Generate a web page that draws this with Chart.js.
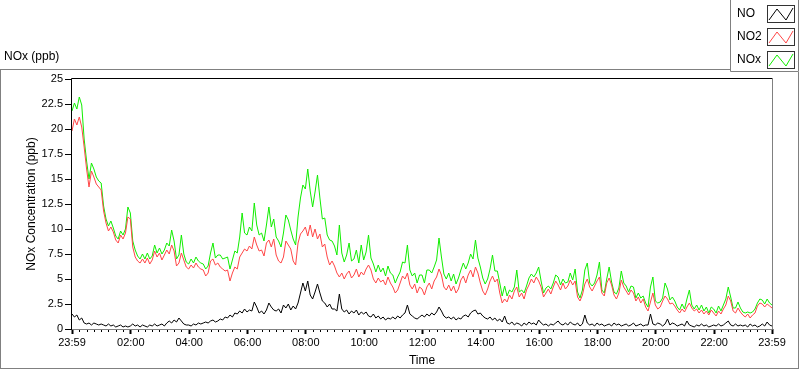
<!DOCTYPE html>
<html>
<head>
<meta charset="utf-8">
<title>NOx (ppb)</title>
<script src="https://cdn.jsdelivr.net/npm/chart.js@4.4.1/dist/chart.umd.min.js"></script>
<style>
  html, body { margin: 0; padding: 0; background: #fff; }
  #noxChart { display: block; }
</style>
</head>
<body>
<canvas id="noxChart" width="800" height="369"></canvas>
<script>

// one reading every 5 minutes, starting 23:59
const stepMinutes = 5;

const seriesNames = ['NO', 'NO2', 'NOx'];
const seriesColors = ['#000000', '#ff4646', '#11ee00'];

const no = [
    1.5, 1.2, 1.4, 0.9, 1.1, 0.6, 0.5, 0.6, 0.4, 0.6, 0.5, 0.4,
    0.5, 0.4, 0.3, 0.5, 0.3, 0.4, 0.2, 0.3, 0.4, 0.2, 0.3, 0.2,
    0.3, 0.5, 0.3, 0.4, 0.2, 0.4, 0.3, 0.2, 0.4, 0.3, 0.5, 0.3,
    0.4, 0.5, 0.3, 0.6, 0.8, 0.6, 0.9, 0.7, 1.1, 0.8, 0.5, 0.4,
    0.4, 0.3, 0.5, 0.4, 0.6, 0.5, 0.6, 0.7, 0.6, 0.8, 0.9, 0.7,
    0.8, 1.0, 0.9, 1.2, 1.1, 1.4, 1.2, 1.6, 1.5, 1.8, 1.6, 2.0,
    1.7, 1.9, 1.8, 2.7, 2.2, 1.6, 1.8, 1.5, 1.9, 2.6, 2.2, 1.9,
    1.8, 2.0, 1.6, 2.4, 2.1, 2.5, 1.9, 2.3, 2.0, 2.6, 3.6, 4.6,
    3.8, 4.8, 3.4, 3.0, 3.7, 4.5, 3.6, 2.8, 2.6, 2.2, 2.5, 2.0,
    2.0, 1.8, 3.5, 2.0, 1.7, 1.9, 1.5, 1.8, 1.6, 1.9, 1.4, 1.7,
    1.5, 1.7, 1.3, 1.2, 1.5, 1.1, 1.3, 1.0, 1.2, 0.9, 1.1, 1.0,
    1.2, 1.0, 1.3, 1.1, 1.4, 1.6, 2.4, 1.5, 1.3, 1.1, 1.0, 1.2,
    1.4, 1.2, 1.5, 1.3, 1.6, 1.4, 1.7, 2.2, 1.8, 1.3, 1.1, 1.2,
    1.0, 1.2, 0.9, 1.1, 1.0, 1.3, 1.4, 1.2, 1.6, 1.8, 1.9, 1.5,
    1.6, 1.3, 1.1, 1.0, 1.2, 0.9, 1.1, 0.8, 1.0, 0.7, 1.3, 0.6,
    0.5, 0.7, 0.4, 0.6, 0.5, 0.3, 0.6, 0.4, 0.7, 0.5, 0.6, 0.4,
    0.9, 0.6, 0.4, 0.5, 0.3, 0.5, 0.4, 0.6, 0.8, 0.5, 0.4, 0.6,
    0.4, 0.7, 0.5, 0.4, 0.6, 0.3, 0.5, 1.4, 0.6, 0.4, 0.5, 0.3,
    0.6, 0.4, 0.5, 0.3, 0.4, 0.5, 0.3, 0.6, 0.4, 0.5, 0.3, 0.4,
    0.5, 0.3, 0.4, 0.6, 0.3, 0.4, 0.5, 0.3, 0.4, 0.4, 1.5, 0.5,
    0.4, 0.6, 0.5, 0.3, 0.5, 1.0, 0.4, 0.6, 0.5, 0.3, 0.4, 0.5,
    0.3, 0.8, 0.4, 0.3, 0.2, 0.4, 0.3, 0.5, 0.3, 0.4, 0.2, 0.3,
    0.4, 0.3, 0.5, 0.3, 0.4, 0.6, 0.8, 0.4, 0.3, 0.5, 0.3, 0.4,
    0.3, 0.4, 0.2, 0.5, 0.3, 0.4, 0.2, 0.3, 0.5, 0.3, 0.7, 0.4,
    0.3
];

const no2 = [
    19.8, 21.0, 20.4, 21.2, 20.2, 18.2, 16.0, 14.2, 15.8, 15.2, 14.5, 14.2,
    13.9, 11.8, 10.6, 9.8, 10.2, 9.7, 8.9, 8.6, 9.4, 9.0, 9.6, 11.2,
    11.0, 8.2, 7.2, 6.8, 6.6, 7.0, 6.6, 7.1, 6.5, 6.9, 7.8, 7.2,
    7.6, 6.9, 7.4, 7.9, 7.5, 8.4, 7.8, 6.3, 6.6, 7.6, 6.9, 6.2,
    6.0, 6.4, 6.1, 6.6, 6.2, 6.0, 5.9, 5.3, 5.6, 6.8, 7.0, 6.4,
    6.6, 6.2, 6.0, 5.8, 5.9, 4.8, 5.6, 6.2, 6.0, 7.2, 7.6, 8.0,
    7.8, 8.3, 8.0, 9.2, 8.4, 7.8, 7.9, 7.3, 8.6, 8.9, 8.2, 9.0,
    7.4, 6.8, 6.6, 7.2, 8.8, 8.4, 8.0, 6.8, 6.4, 8.6, 9.5, 9.8,
    10.2, 9.3, 10.4, 9.2, 10.0, 9.0, 9.5, 8.2, 8.5, 7.2, 6.4, 6.8,
    6.3, 5.6, 5.2, 5.6, 5.0, 5.5, 5.8, 5.1, 5.4, 6.0, 5.2, 5.7,
    5.4, 6.0, 6.4, 5.9, 5.0, 4.6, 5.1, 4.7, 4.9, 4.4, 5.2, 4.6,
    4.2, 3.6, 3.9, 4.6, 5.3, 5.0, 5.6, 4.4, 4.0, 4.5, 3.6, 4.2,
    4.0, 3.4, 4.2, 4.6, 4.0, 4.8, 5.2, 6.0, 5.4, 4.2, 3.9, 4.4,
    3.8, 4.3, 3.6, 4.0, 4.9, 5.3, 4.6, 5.4, 5.9, 5.2, 6.2, 5.6,
    4.6, 3.8, 3.4, 4.0, 4.8, 5.3, 4.7, 5.0, 3.6, 2.6, 3.0, 2.7,
    3.4, 3.0, 3.8, 4.2, 3.2, 3.6, 3.0, 3.9, 4.4, 5.0, 4.6, 5.2,
    4.8, 4.2, 3.2, 3.6, 4.0, 3.5, 4.2, 4.8, 4.4, 3.9, 4.6, 4.0,
    4.3, 4.9, 4.4, 4.8, 3.2, 2.8, 3.4, 4.5, 5.0, 4.2, 3.8, 4.3,
    4.8, 5.2, 3.6, 3.3, 4.6, 5.1, 4.4, 3.4, 3.0, 3.6, 4.9, 4.2,
    3.8, 3.4, 3.9, 3.6, 2.8, 3.2, 2.6, 3.0, 2.2, 1.8, 2.7, 3.6,
    2.4, 2.0, 2.2, 2.8, 3.3, 3.0, 2.5, 2.6, 2.3, 1.9, 1.6, 2.0,
    1.7, 2.2, 2.6, 2.1, 1.8, 2.0, 1.6, 1.9, 1.5, 1.8, 1.4, 1.9,
    1.6, 1.3, 1.8, 1.5, 2.0, 2.4, 3.3, 2.8, 1.8, 1.6, 2.1, 1.7,
    1.4, 1.2, 1.5, 1.1, 1.4, 1.6, 2.3, 2.6, 2.5, 2.2, 2.5, 2.3,
    2.1
];

const nox = [
    21.8, 22.6, 22.0, 23.2, 22.4, 19.0, 16.8, 15.0, 16.6, 16.0, 15.2, 14.8,
    14.6, 12.3, 11.0, 10.3, 10.8, 10.1, 9.3, 9.0, 9.8, 9.4, 10.0, 12.2,
    11.6, 8.8, 7.9, 7.3, 7.0, 7.5, 7.0, 7.6, 7.0, 7.3, 8.4, 7.6,
    8.1, 7.5, 7.9, 8.6, 8.3, 9.9, 8.8, 7.0, 7.4, 9.4, 7.5, 6.7,
    6.5, 7.0, 6.6, 7.2, 6.8, 6.6, 6.5, 6.0, 6.3, 7.6, 8.6, 7.1,
    7.4, 7.4, 7.0, 7.1, 7.2, 6.0, 6.9, 7.8, 7.6, 9.2, 11.6, 9.6,
    9.4, 10.2, 9.8, 12.6, 10.4, 9.4, 9.6, 8.8, 10.4, 12.2, 10.2, 11.0,
    9.2, 8.8, 8.2, 9.6, 11.4, 10.9, 9.9, 9.0, 8.4, 11.2, 13.1, 14.4,
    14.0, 16.0, 13.8, 12.2, 13.7, 15.4, 13.1, 11.0, 11.1, 9.4, 8.9, 8.8,
    8.3, 7.4, 10.4, 7.6, 6.7, 7.4, 8.6, 6.8, 7.0, 7.9, 6.6, 8.4,
    6.9, 7.7, 9.4, 7.1, 6.5, 5.7, 6.4, 5.7, 6.1, 5.3, 6.3, 5.6,
    5.4, 4.6, 5.2, 5.7, 6.7, 6.6, 8.4, 5.9, 5.3, 5.6, 4.6, 5.4,
    5.4, 4.6, 5.9, 5.9, 5.6, 6.2, 6.9, 9.1, 7.2, 5.5, 5.0, 5.6,
    4.8, 5.5, 4.5, 5.1, 5.9, 6.6, 6.0, 6.6, 7.5, 7.0, 8.9, 7.1,
    6.2, 5.1, 4.5, 5.0, 6.0, 7.4, 5.8, 5.8, 4.6, 3.3, 4.3, 3.3,
    3.9, 3.7, 4.2, 5.9, 3.7, 3.9, 3.6, 4.3, 5.1, 5.5, 5.2, 5.6,
    6.2, 4.8, 3.6, 4.1, 4.3, 4.0, 4.6, 5.4, 5.2, 4.4, 5.0, 4.6,
    4.7, 5.6, 4.9, 6.0, 3.7, 3.1, 3.9, 5.9, 6.6, 4.6, 4.3, 4.6,
    5.4, 6.7, 3.9, 3.6, 5.0, 6.2, 4.7, 3.7, 3.5, 4.1, 5.8, 4.6,
    4.3, 3.7, 4.3, 4.2, 3.1, 3.6, 3.1, 3.3, 2.6, 2.2, 4.2, 5.2,
    2.8, 2.6, 2.7, 3.1, 4.6, 4.0, 2.9, 3.2, 2.8, 2.2, 1.9, 2.5,
    2.0, 3.0, 3.9, 2.4, 2.0, 2.4, 1.9, 2.4, 1.8, 2.2, 1.6, 2.2,
    2.0, 1.6, 2.3, 1.8, 2.4, 3.0, 4.2, 3.2, 2.1, 2.1, 2.7, 2.1,
    1.7, 1.6, 1.7, 1.6, 1.7, 2.0, 2.6, 3.0, 2.9, 2.5, 3.0, 2.6,
    2.4
];

// minutes after 23:59 for the labelled ticks
const majorTickMinutes = [0, 121, 241, 361, 481, 601, 721, 841, 961, 1081, 1201, 1321, 1440];
const majorTickLabels = ['23:59', '02:00', '04:00', '06:00', '08:00', '10:00', '12:00',
    '14:00', '16:00', '18:00', '20:00', '22:00', '23:59'];

const yMin = 0;
const yMax = 25;
const yStep = 2.5;

const fontFamily = '"Liberation Sans", Arial, sans-serif';

// small unlabelled ticks every quarter hour of clock time
const minorTickMinutes = [];
for (let m = 16; m < 1440; m += 15) {
    if (!majorTickMinutes.includes(m)) minorTickMinutes.push(m);
}
const allTickMinutes = majorTickMinutes.concat(minorTickMinutes).sort((a, b) => a - b);

const toPoints = (values) => values.map((v, i) => ({ x: i * stepMinutes, y: v }));

const isMajor = (value) => majorTickMinutes.includes(value);

const panelDecor = {
    id: 'panel_decor',
    beforeDraw: (chart) => {
        const ctx = chart.ctx;
        ctx.save();
        ctx.fillStyle = '#ffffff';
        ctx.fillRect(0, 0, chart.width, chart.height);
        ctx.strokeStyle = '#808080';
        ctx.lineWidth = 1;
        ctx.strokeRect(0.5, 69.5, 798, 299);
        ctx.fillStyle = '#000';
        ctx.font = '12px ' + fontFamily;
        ctx.textBaseline = 'middle';
        ctx.textAlign = 'left';
        ctx.fillText('NOx (ppb)', 4, 57);
        ctx.restore();
    },
    afterDraw: (chart) => {
        const ctx = chart.ctx;
        const { top, left, right, bottom } = chart.chartArea;
        ctx.save();
        ctx.lineWidth = 1;

        // sunken plot frame
        ctx.strokeStyle = '#000';
        ctx.beginPath();
        ctx.moveTo(left - 0.5, bottom + 0.5);
        ctx.lineTo(left - 0.5, top - 0.5);
        ctx.lineTo(right + 0.5, top - 0.5);
        ctx.stroke();
        ctx.strokeStyle = '#808080';
        ctx.beginPath();
        ctx.moveTo(right + 0.5, top - 0.5);
        ctx.lineTo(right + 0.5, bottom + 0.5);
        ctx.lineTo(left, bottom + 0.5);
        ctx.stroke();

        // plot legend box, top right
        ctx.fillStyle = '#ffffff';
        ctx.fillRect(730, 0, 69, 72);
        ctx.strokeStyle = '#808080';
        ctx.beginPath();
        ctx.moveTo(730.5, 0);
        ctx.lineTo(730.5, 71.5);
        ctx.lineTo(798.5, 71.5);
        ctx.lineTo(798.5, 0);
        ctx.stroke();

        ctx.font = '12px ' + fontFamily;
        ctx.textBaseline = 'middle';
        ctx.textAlign = 'left';
        chart.data.datasets.forEach((ds, i) => {
            const cy = 14 + i * 23;
            ctx.fillStyle = '#000';
            ctx.fillText(ds.label, 737, cy);
            ctx.strokeStyle = '#333';
            ctx.strokeRect(767.5, cy - 8.5, 27, 17);
            ctx.strokeStyle = ds.borderColor;
            ctx.beginPath();
            ctx.moveTo(769, cy + 6);
            ctx.lineTo(777, cy - 5);
            ctx.lineTo(786, cy + 6);
            ctx.lineTo(793, cy - 6);
            ctx.stroke();
        });
        ctx.restore();
    }
};

const data = {
    datasets: [
        { label: seriesNames[0], data: toPoints(no), borderColor: seriesColors[0] },
        { label: seriesNames[1], data: toPoints(no2), borderColor: seriesColors[1] },
        { label: seriesNames[2], data: toPoints(nox), borderColor: seriesColors[2] }
    ]
};

const config = {
    type: 'line',
    data: data,
    plugins: [panelDecor],
    options: {
        responsive: false,
        animation: false,
        devicePixelRatio: 1,
        parsing: false,
        layout: {
            padding: { top: 79, right: 28, bottom: 0, left: 0 }
        },
        elements: {
            point: { radius: 0 },
            line: { borderWidth: 1, tension: 0 }
        },
        plugins: {
            legend: { display: false },
            tooltip: { enabled: false }
        },
        scales: {
            x: {
                type: 'linear',
                min: 0,
                max: 1440,
                afterBuildTicks: (scale) => {
                    scale.ticks = allTickMinutes.map(v => ({ value: v }));
                },
                afterFit: (scale) => {
                    scale.height = 40;
                },
                border: { display: false },
                grid: {
                    drawOnChartArea: false,
                    drawTicks: true,
                    tickLength: 5,
                    tickColor: '#000',
                    tickWidth: (c) => (c.tick && isMajor(c.tick.value)) ? 2 : 1,
                    tickBorderDash: (c) => (c.tick && isMajor(c.tick.value)) ? [] : [3, 10]
                },
                ticks: {
                    autoSkip: false,
                    maxRotation: 0,
                    minRotation: 0,
                    padding: 2,
                    color: '#000',
                    font: { family: fontFamily, size: 11 },
                    callback: (value) => {
                        const k = majorTickMinutes.indexOf(value);
                        return k >= 0 ? majorTickLabels[k] : '';
                    }
                },
                title: {
                    display: true,
                    text: 'Time',
                    color: '#000',
                    font: { family: fontFamily, size: 12 },
                    padding: { top: 0, bottom: 1 }
                }
            },
            y: {
                min: yMin,
                max: yMax,
                afterFit: (scale) => {
                    scale.width = 72;
                },
                border: { display: false },
                grid: {
                    drawOnChartArea: false,
                    drawTicks: true,
                    tickLength: 7,
                    tickColor: '#000'
                },
                ticks: {
                    stepSize: yStep,
                    padding: 2,
                    color: '#000',
                    font: { family: fontFamily, size: 11 },
                    callback: (value) => String(value)
                },
                title: {
                    display: true,
                    text: 'NOx Concentration (ppb)',
                    color: '#000',
                    font: { family: fontFamily, size: 12 },
                    padding: { top: 24, bottom: 0 }
                }
            }
        }
    }
};

const noxChart = new Chart(
    document.getElementById('noxChart'),
    config
);
</script>
</body>
</html>
